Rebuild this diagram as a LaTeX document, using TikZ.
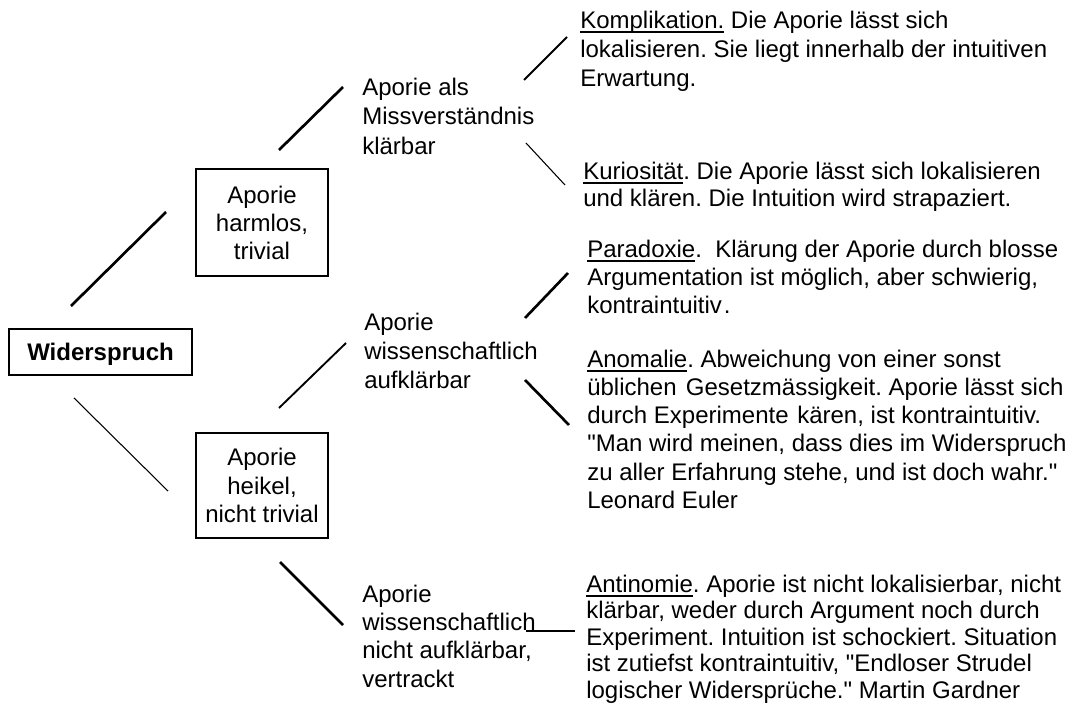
\documentclass[tikz,border=0pt]{standalone}
\usepackage{fontspec}
\setmainfont{Liberation Sans}[Ligatures=TeXOff]
\frenchspacing
% underline a single word with a rule just below the baseline
\newcommand{\ulword}[1]{\setbox0\hbox{#1}\rlap{\rule[-3.4pt]{\wd0}{1.1pt}}\box0\relax}
% strut that fixes the height of the first line of a text block
\newcommand{\firstline}{\rule{0pt}{15pt}}
% straight double quote
\newcommand{\sq}{\char34\relax}
\begin{document}
\begin{tikzpicture}[x=0.75pt,y=-0.75pt,
  framed/.style={draw, line width=1.5pt, inner sep=0pt, align=center},
  blocktext/.style={anchor=north west, inner sep=0pt, align=left},
  heavy/.style={line width=2pt},
  medium/.style={line width=1.4pt},
  light/.style={line width=0.8pt}]
\useasboundingbox (0,0) rectangle (1072,706);

% boxed nodes
\node[framed, minimum width=137.25pt, minimum height=34.5pt, text depth=0pt,
      font=\fontsize{18pt}{21pt}\selectfont\bfseries] (wid) at (100.5,352) {Widerspruch};
\node[framed, minimum width=99pt, minimum height=80.25pt,
      font=\fontsize{18pt}{21pt}\selectfont] (harm) at (262,222.5) {Aporie\\harmlos,\\trivial};
\node[framed, minimum width=99pt, minimum height=78.75pt,
      font=\fontsize{18pt}{21.4pt}\selectfont] (heik) at (262,485.5) {Aporie\\heikel,\\nicht trivial};

% middle column
\node[blocktext, font=\fontsize{18pt}{22.1pt}\selectfont] (miss) at (362,75)
  {\firstline Aporie als\\Missverständnis\\klärbar};
\node[blocktext, font=\fontsize{18pt}{21.75pt}\selectfont] (auf) at (364,310)
  {\firstline Aporie\\wissenschaftlich\\aufklärbar};
\node[blocktext, font=\fontsize{18pt}{21.2pt}\selectfont] (nauf) at (362,582)
  {\firstline Aporie\\wissenschaftlich\\nicht aufklärbar,\\vertrackt};

% right column
\node[blocktext, font=\fontsize{18pt}{21.75pt}\selectfont] (kompl) at (580,8)
  {\firstline\ulword{Komplikation.} Die Aporie lässt sich\\lokalisieren. Sie liegt innerhalb der intuitiven\\Erwartung.};
\node[blocktext, font=\fontsize{18pt}{20.25pt}\selectfont] (kurio) at (583,159)
  {\firstline\ulword{Kuriosität}. Die Aporie lässt sich lokalisieren\\und klären. Die Intuition wird strapaziert.};
\node[blocktext, font=\fontsize{18pt}{21pt}\selectfont] (para) at (587,237)
  {\firstline\ulword{Paradoxie}.\ \ Klärung der Aporie durch blosse\\Argumentation ist möglich, aber schwierig,\\kontraintuitiv\kern1.5pt.};
\node[blocktext, font=\fontsize{18pt}{21.15pt}\selectfont] (anom) at (587,347)
  {\firstline\ulword{Anomalie}. Abweichung von einer sonst\\üblichen\hspace{2pt} Gesetzmässigkeit. Aporie lässt sich\\durch Experimente\hspace{1.5pt} kären, ist kontraintuitiv.\\\sq Man wird meinen, dass dies im Widerspruch\\zu aller Erfahrung stehe, und ist doch wahr.\sq\\Leonard Euler};
\node[blocktext, font=\fontsize{18pt}{19.9pt}\selectfont] (anti) at (586,572)
  {\firstline\ulword{Antinomie}. Aporie ist nicht lokalisierbar, nicht\\klärbar, weder durch Argument noch durch\\Experiment. Intuition ist schockiert. Situation\\ist zutiefst kontraintuitiv, \sq Endloser Strudel\\logischer Widersprüche.\sq{} Martin Gardner};

% connector end points
\coordinate (wid-harm-a) at (71,306);   \coordinate (wid-harm-b) at (166,212);
\coordinate (wid-heik-a) at (74,398);   \coordinate (wid-heik-b) at (168,491);
\coordinate (harm-miss-a) at (279,150); \coordinate (harm-miss-b) at (343,87);
\coordinate (heik-auf-a) at (279,408);  \coordinate (heik-auf-b) at (346,343);
\coordinate (heik-nauf-a) at (280,562); \coordinate (heik-nauf-b) at (343,625);
\coordinate (miss-kompl-a) at (524,80); \coordinate (miss-kompl-b) at (567,37);
\coordinate (miss-kurio-a) at (526,143);\coordinate (miss-kurio-b) at (565,185);
\coordinate (auf-para-a) at (525,318);  \coordinate (auf-para-b) at (568,273);
\coordinate (auf-anom-a) at (525,380);  \coordinate (auf-anom-b) at (569,425);
\coordinate (nauf-anti-a) at (526,631); \coordinate (nauf-anti-b) at (575,631);

% connectors
\draw[heavy]  (wid-harm-a) -- (wid-harm-b);
\draw[light]  (wid-heik-a) -- (wid-heik-b);
\draw[heavy]  (harm-miss-a) -- (harm-miss-b);
\draw[medium] (heik-auf-a) -- (heik-auf-b);
\draw[heavy]  (heik-nauf-a) -- (heik-nauf-b);
\draw[medium] (miss-kompl-a) -- (miss-kompl-b);
\draw[light]  (miss-kurio-a) -- (miss-kurio-b);
\draw[heavy]  (auf-para-a) -- (auf-para-b);
\draw[heavy]  (auf-anom-a) -- (auf-anom-b);
\draw[heavy]  (nauf-anti-a) -- (nauf-anti-b);
\end{tikzpicture}
\end{document}
